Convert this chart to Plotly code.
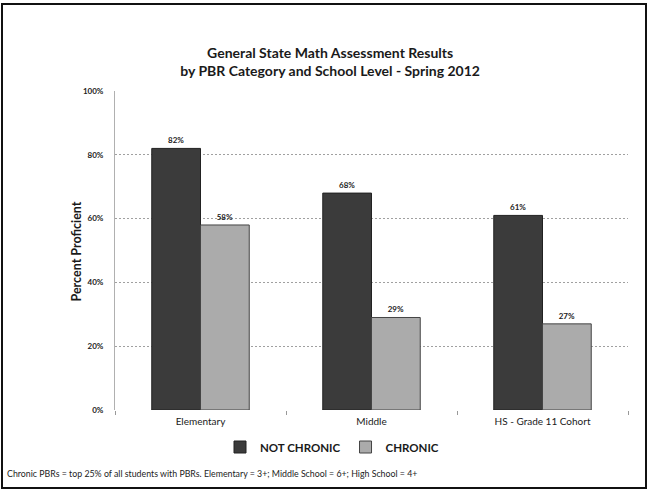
import plotly.graph_objects as go

# School levels and percent proficient by PBR category
levels = ["Elementary", "Middle", "HS - Grade 11 Cohort"]
not_chronic = [82, 68, 61]
chronic = [58, 29, 27]
y_ticks = [0, 20, 40, 60, 80, 100]
y_tick_labels = [f"{v}%" for v in y_ticks]

W, H = 655, 493
L, R, T, B = 115, 27, 91, 83
pw, ph = W - L - R, H - T - B


def px_x(x):
    return (x - L) / pw


def px_y(y):
    return (H - B - y) / ph


FONT = "Lato"

fig = go.Figure()
fig.add_trace(go.Bar(
    x=levels, y=not_chronic, name="NOT CHRONIC",
    marker=dict(color="#3b3b3b", line=dict(color="#222222", width=1)),
    text=[f"{v}%" for v in not_chronic],
    texttemplate="<b>%{text}</b>", textposition="outside",
    textfont=dict(size=8, color="#222222", family=FONT),
    cliponaxis=False,
))
fig.add_trace(go.Bar(
    x=levels, y=chronic, name="CHRONIC",
    marker=dict(color="#ababab", line=dict(color="#444444", width=1)),
    text=[f"{v}%" for v in chronic],
    texttemplate="<b>%{text}</b>", textposition="outside",
    textfont=dict(size=8, color="#222222", family=FONT),
    cliponaxis=False,
))

fig.update_layout(
    width=W, height=H, autosize=False,
    margin=dict(l=L, r=R, t=T, b=B),
    paper_bgcolor="white", plot_bgcolor="white",
    barmode="group", bargap=0.43, bargroupgap=0,
    font=dict(family=FONT, color="#222222"),
    title=dict(
        text="<b>General State Math Assessment Results<br>by PBR Category and School Level - Spring 2012</b>",
        x=0.504, xref="container", xanchor="center",
        y=1 - 57.5 / H, yref="container", yanchor="middle",
        font=dict(size=14, family=FONT, color="#1a1a1a"),
    ),
    legend=dict(
        orientation="h", x=px_x(332), xanchor="center",
        y=px_y(447), yanchor="middle",
        font=dict(size=11.5, family=FONT, color="#1a1a1a", weight="bold"),
        itemwidth=30, tracegroupgap=0,
    ),
    showlegend=True,
)

fig.update_xaxes(
    showline=False, showgrid=False,
    ticks="outside", tickson="boundaries", ticklen=4, tickcolor="#999999",
    tickfont=dict(size=10, family=FONT, color="#1a1a1a"),
    ticklabelstandoff=4,
)
fig.update_yaxes(
    range=[0, 100], tickvals=y_ticks, ticktext=y_tick_labels,
    showgrid=True, gridcolor="#a0a0a0", griddash="2px,2px", gridwidth=1,
    showline=True, linecolor="#b0b0b0", linewidth=1,
    zeroline=False,
    tickfont=dict(size=8, family=FONT, color="#222222", weight="bold"),
    ticklabelstandoff=9,
)

# Axis title
fig.add_annotation(
    text="<b>Percent Proficient</b>", textangle=-90,
    x=px_x(66), y=px_y(252), xref="paper", yref="paper",
    showarrow=False, font=dict(size=12.5, family=FONT, color="#1a1a1a"),
)

# Footnote
fig.add_annotation(
    text="Chronic PBRs = top 25% of all students with PBRs. Elementary = 3+; Middle School = 6+; High School = 4+",
    x=px_x(5), y=px_y(473), xref="paper", yref="paper",
    xanchor="left", yanchor="middle", showarrow=False,
    font=dict(size=8.8, family=FONT, color="#222222"),
)

# Outer frame
fig.add_shape(
    type="rect", xref="paper", yref="paper",
    x0=px_x(2), x1=px_x(646), y0=px_y(488), y1=px_y(4),
    line=dict(color="#111111", width=2), fillcolor="rgba(0,0,0,0)",
)

fig.write_html("out.html")
